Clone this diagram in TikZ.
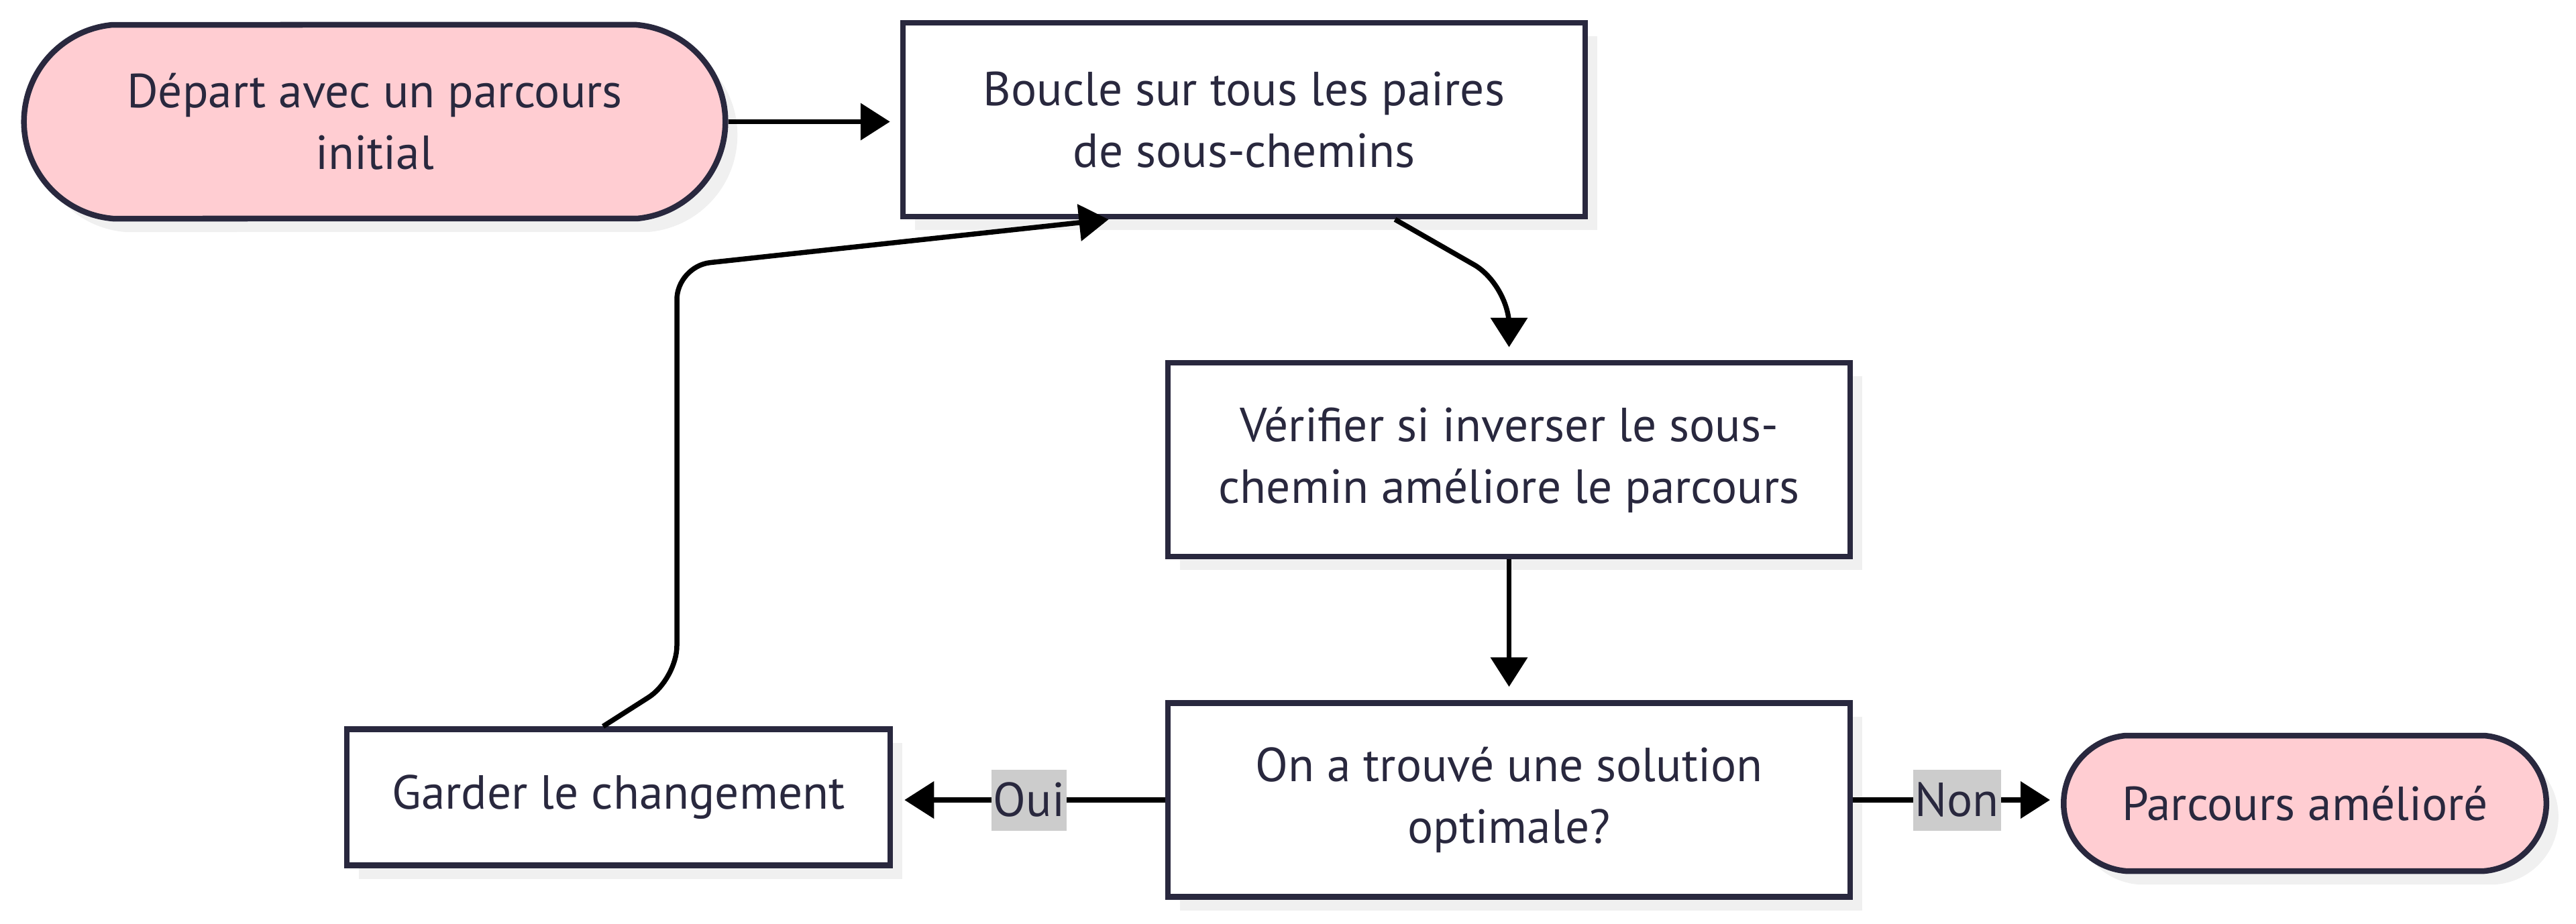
\documentclass[tikz,border=0pt]{standalone}
\usepackage{fontspec}
\setmainfont{PT Sans}
\usepackage{xcolor}
\usepackage{tikz}
\usetikzlibrary{shapes.misc, arrows.meta, positioning, calc, shadows}
\definecolor{inkblue}{RGB}{41, 40, 62}
\definecolor{termpink}{RGB}{255, 205, 210}
\definecolor{shadowgray}{RGB}{240, 240, 240}
\definecolor{labelgray}{RGB}{204, 204, 204}

\begin{document}
\begin{tikzpicture}[
    box_node/.style={draw=inkblue, fill=white, line width=0.085cm, minimum width=10.17cm, minimum height=2.89cm, text=inkblue, align=center, font=\fontsize{20.3}{26.2}\selectfont, drop shadow={shadow xshift=0.18cm, shadow yshift=-0.2cm, fill=shadowgray, opacity=1}},
    term_node/.style={box_node, rounded rectangle, rounded rectangle arc length=170, fill=termpink},
    flow/.style={-{Triangle[length=0.44cm, width=0.54cm]}, line width=0.075cm, black},
    edge_label/.style={fill=labelgray, text=inkblue, inner xsep=0.03cm, inner ysep=0pt, minimum height=0.91cm, font=\fontsize{20.3}{26.2}\selectfont}
]
    \useasboundingbox (0,0) rectangle (38.4,-13.77);

    % Terminal nodes
    \node[term_node, minimum width=10.69cm] (start) at (5.585,-1.815) {Départ avec un parcours\\initial};
    \node[term_node, minimum width=7.43cm, minimum height=2.02cm] (fin) at (34.36,-11.98) {Parcours amélioré};

    % Step nodes
    \node[box_node] (boucle) at (18.545,-1.785) {Boucle sur tous les paires\\de sous-chemins};
    \node[box_node] (verif) at (22.495,-6.855) {Vérifier si inverser le sous-\\chemin améliore le parcours};
    \node[box_node] (decide) at (22.495,-11.93) {On a trouvé une solution\\optimale?};
    \node[box_node, minimum width=8.10cm, minimum height=2.03cm] (garder) at (9.22,-11.89) {Garder le changement};

    % Arrows
    \draw[flow, shorten >=0.15cm] (start.east) -- (start.east -| boucle.west);
    \draw[flow, rounded corners=0.6cm, shorten >=0.19cm] ($(boucle.south)+(2.25,0)$) -- ($(verif.north)+(0,1.12)$) -- (verif.north);
    \draw[flow, shorten >=0.2cm] (verif) -- (decide);
    \draw[flow, shorten >=0.17cm] (decide.west) -- node[edge_label] {Oui} (decide.west -| garder.east);
    \draw[flow, shorten >=0.16cm] (decide.east) -- node[edge_label] {Non} (decide.east -| fin.west);
    \draw[flow, rounded corners=0.5cm] ($(garder.north)+(-0.23,0)$) -- (10.09,-10.13) -- (10.09,-3.97) -- ($(boucle.south)+(-2.02,0)$);
\end{tikzpicture}
\end{document}
